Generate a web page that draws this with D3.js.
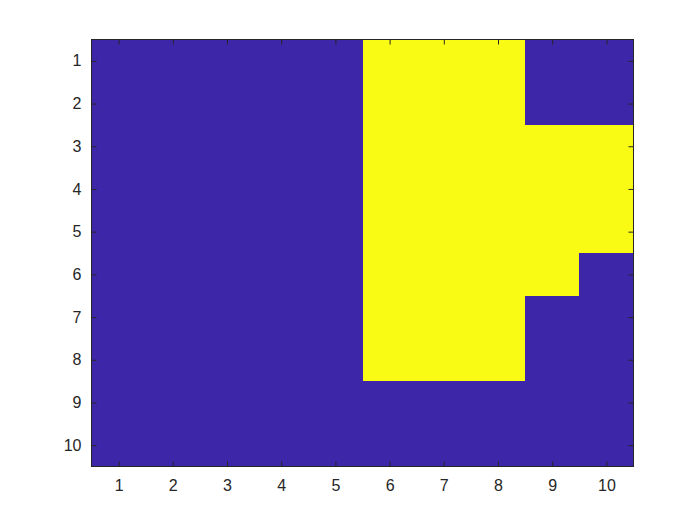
<!DOCTYPE html>
<html><head><meta charset="utf-8">
<script src="https://cdn.jsdelivr.net/npm/d3@7"></script>
<style>body{margin:0;background:#fff}</style>
</head><body>
<svg id="c" width="700" height="525"></svg>
<script>
const rows = [1,2,3,4,5,6,7,8,9,10];
const cols = [1,2,3,4,5,6,7,8,9,10];
const matrix = [
  [0,0,0,0,0,1,1,1,0,0],
  [0,0,0,0,0,1,1,1,0,0],
  [0,0,0,0,0,1,1,1,1,1],
  [0,0,0,0,0,1,1,1,1,1],
  [0,0,0,0,0,1,1,1,1,1],
  [0,0,0,0,0,1,1,1,1,0],
  [0,0,0,0,0,1,1,1,0,0],
  [0,0,0,0,0,1,1,1,0,0],
  [0,0,0,0,0,0,0,0,0,0],
  [0,0,0,0,0,0,0,0,0,0]
];
const xTicks = [1,2,3,4,5,6,7,8,9,10];
const yTicks = [1,2,3,4,5,6,7,8,9,10];

const L=91.5, R=633.5, T=39.5, B=466.5;
const svg = d3.select('#c');
const x = d3.scaleLinear().domain([0.5,10.5]).range([L,R]);
const y = d3.scaleLinear().domain([0.5,10.5]).range([T,B]);
const color = d3.scaleLinear().domain([0,1]).range(['#3E26A8','#F9FB15']);

const cells = [];
matrix.forEach((r,i)=>r.forEach((v,j)=>cells.push({row:rows[i],col:cols[j],v})));
svg.append('g').selectAll('rect').data(cells).join('rect')
  .attr('x',d=>x(d.col-0.5)).attr('y',d=>y(d.row-0.5))
  .attr('width',d=>x(d.col+0.5)-x(d.col-0.5)+0.5)
  .attr('height',d=>y(d.row+0.5)-y(d.row-0.5)+0.5)
  .attr('fill',d=>color(d.v)).attr('shape-rendering','crispEdges');

const tc='#262626', tl=5;
const font = '"Liberation Sans", Arial, Helvetica, sans-serif';
function style(g){
  g.select('.domain').remove();
  g.selectAll('line').attr('stroke',tc);
  g.selectAll('text').attr('fill',tc).style('font-family',font).style('font-size','16px');
}
svg.append('g').attr('transform',`translate(0,${B})`)
  .call(d3.axisBottom(x).tickValues(xTicks).tickSizeInner(-tl).tickSizeOuter(0).tickPadding(13).tickFormat(d3.format('d')))
  .call(style);
svg.append('g').attr('transform',`translate(0,${T})`)
  .call(d3.axisTop(x).tickValues(xTicks).tickSizeInner(-tl).tickSizeOuter(0).tickFormat(''))
  .call(style);
svg.append('g').attr('transform',`translate(${L},0)`)
  .call(d3.axisLeft(y).tickValues(yTicks).tickSizeInner(-tl).tickSizeOuter(0).tickPadding(10).tickFormat(d3.format('d')))
  .call(style);
svg.append('g').attr('transform',`translate(${R},0)`)
  .call(d3.axisRight(y).tickValues(yTicks).tickSizeInner(-tl).tickSizeOuter(0).tickFormat(''))
  .call(style);
svg.append('rect').attr('x',L).attr('y',T).attr('width',R-L).attr('height',B-T)
  .attr('fill','none').attr('stroke',tc).attr('stroke-width',1);
</script>
</body></html>
